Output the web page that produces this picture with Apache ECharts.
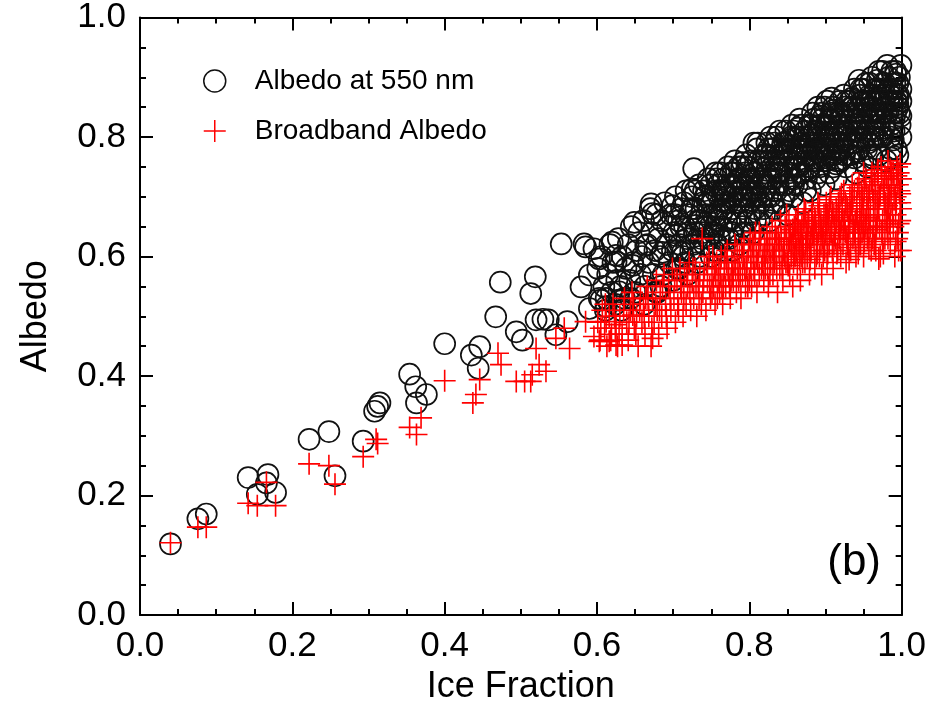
<!DOCTYPE html>
<html>
<head>
<meta charset="utf-8">
<script src="https://cdn.jsdelivr.net/npm/echarts@6/dist/echarts.min.js"></script>
<style>
  html, body { margin: 0; padding: 0; background: #fff; }
  #main { width: 929px; height: 710px; }
</style>
</head>
<body>
<div id="main"></div>
<script>
var myChart = echarts.init(document.getElementById('main'));

// values: [ice fraction, albedo]
var seriesNames = ['Albedo at 550 nm', 'Broadband Albedo'];
var xTicks = [0, 0.2, 0.4, 0.6, 0.8, 1.0];
var yTicks = [0, 0.2, 0.4, 0.6, 0.8, 1.0];
var panelLabel = '(b)';

var albedo550 = [
  [0.040,0.119],[0.076,0.161],[0.087,0.169],[0.142,0.230],[0.154,0.202],[0.166,0.221],[0.168,0.235],[0.178,0.205],
  [0.222,0.294],[0.248,0.307],[0.256,0.233],[0.293,0.291],[0.308,0.341],[0.312,0.349],[0.315,0.355],[0.354,0.403],
  [0.362,0.382],[0.363,0.355],[0.376,0.369],[0.400,0.454],[0.435,0.435],[0.444,0.413],[0.446,0.449],[0.467,0.499],
  [0.473,0.557],[0.494,0.474],[0.502,0.460],[0.513,0.538],[0.519,0.566],[0.520,0.494],[0.529,0.495],[0.536,0.494],
  [0.546,0.469],[0.553,0.621],[0.561,0.491],[0.579,0.549],[0.583,0.621],[0.585,0.616],[0.590,0.569],[0.596,0.613],
  [0.590,0.513],[0.603,0.596],[0.605,0.527],[0.612,0.516],[0.620,0.624],[0.625,0.602],[0.625,0.591],[0.629,0.527],
  [0.629,0.541],[0.647,0.585],[0.649,0.657],[0.664,0.618],[0.671,0.688],[0.673,0.672],[0.677,0.541],[0.686,0.607],
  [0.699,0.685],[0.704,0.635],[0.708,0.580],[0.712,0.607],[0.725,0.713],[0.727,0.747],[0.730,0.652],[0.743,0.702],
  [0.760,0.635],[0.769,0.707],[0.791,0.757],[0.800,0.730],
  [.601,.58],[.603,.53],[.606,.60],[.609,.55],[.611,.51],[.614,.57],[.617,.62],[.619,.54],
  [.621,.59],[.624,.52],[.626,.56],[.628,.63],[.631,.55],[.633,.60],[.636,.53],[.638,.58],
  [.641,.62],[.643,.56],[.645,.65],[.647,.59],[.650,.54],[.652,.61],[.655,.64],[.657,.57],[.659,.60],
  [.661,.66],[.663,.55],[.666,.62],[.668,.59],[.670,.68],[.672,.64],[.674,.57],[.676,.61],[.678,.67],[.679,.54],
  [.681,.63],[.683,.60],[.685,.66],[.687,.57],[.689,.69],[.691,.62],[.693,.65],[.695,.59],[.697,.67],[.699,.61],
  [.701,.64],[.703,.70],[.705,.58],[.707,.66],[.709,.62],[.711,.68],[.713,.60],[.715,.65],[.717,.71],[.718,.63],[.719,.57],
  [.721,.67],[.723,.61],[.725,.70],[.728,.64],[.730,.68],[.732,.59],[.734,.72],[.736,.66],[.737,.63],[.739,.69],
  [.741,.62],[.742,.70],[.744,.67],[.746,.73],[.748,.65],[.750,.60],[.751,.69],[.753,.64],[.755,.71],[.757,.67],[.758,.62],[.759,.72],
  [.761,.68],[.762,.74],[.764,.65],[.765,.71],[.767,.61],[.769,.69],[.770,.66],[.772,.75],[.773,.63],[.775,.72],[.777,.68],[.778,.70],[.779,.64],
  [.781,.76],[.782,.71],[.784,.67],[.785,.73],[.787,.62],[.788,.69],[.790,.75],[.791,.65],[.793,.72],[.794,.70],[.796,.77],[.797,.66],[.799,.73],
  [.801,.69],[.802,.76],[.804,.71],[.805,.64],[.807,.74],[.808,.68],[.810,.78],[.811,.72],[.813,.66],[.814,.75],[.816,.70],[.817,.73],[.819,.77],[.820,.67],
  [.821,.74],[.823,.79],[.824,.70],[.826,.76],[.827,.66],[.829,.73],[.830,.78],[.832,.71],[.833,.68],[.835,.75],[.836,.80],[.838,.72],[.839,.77],
  [.841,.74],[.842,.69],[.844,.79],[.845,.76],[.847,.72],[.848,.81],[.850,.67],[.851,.75],[.853,.78],[.854,.73],[.856,.82],[.857,.70],[.859,.77],[.860,.75],
  [.861,.80],[.863,.72],[.864,.77],[.866,.83],[.867,.74],[.869,.79],[.870,.69],[.872,.76],[.873,.81],[.875,.73],[.876,.78],[.878,.82],[.879,.75],[.880,.71],
  [.881,.79],[.883,.84],[.884,.76],[.886,.81],[.887,.73],[.889,.78],[.890,.85],[.892,.75],[.893,.80],[.895,.77],[.896,.83],[.898,.72],[.899,.79],[.900,.82],
  [.901,.76],[.902,.86],[.904,.80],[.905,.74],[.907,.83],[.908,.78],[.910,.85],[.911,.77],[.913,.81],[.914,.73],[.916,.84],[.917,.79],[.919,.86],[.920,.76],
  [.921,.82],[.923,.78],[.924,.87],[.926,.80],[.927,.75],[.929,.84],[.930,.81],[.932,.86],[.933,.77],[.935,.83],[.936,.79],[.938,.88],[.939,.82],[.940,.74],
  [.941,.85],[.943,.81],[.944,.78],[.946,.88],[.947,.83],[.949,.76],[.950,.86],[.952,.80],[.953,.89],[.955,.84],[.956,.79],[.958,.87],[.959,.82],[.960,.77],
  [.961,.90],[.963,.84],[.964,.81],[.966,.88],[.967,.78],[.969,.86],[.970,.91],[.972,.83],[.973,.80],[.975,.89],[.976,.85],[.978,.82],[.979,.87],[.980,.76],
  [.981,.92],[.982,.84],[.984,.88],[.985,.80],[.987,.91],[.988,.86],[.990,.83],[.991,.89],[.993,.78],[.994,.87],[.995,.85],[.997,.90],[.998,.82],[.999,.88],[.999,.92],
  [.612,.53],[.632,.51],[.644,.53],[.662,.52],[.684,.55],[.700,.56],
  [.702,.67],[.706,.61],[.710,.65],[.714,.69],[.716,.59],[.720,.64],[.724,.68],[.726,.62],[.729,.71],[.733,.66],[.735,.60],[.738,.64],
  [.740,.71],[.743,.65],[.745,.69],[.747,.63],[.749,.72],[.752,.67],[.754,.61],[.756,.74],[.758,.66],[.760,.70],[.763,.67],[.766,.73],
  [.768,.63],[.771,.70],[.774,.66],[.776,.74],[.778,.61],[.780,.72],[.783,.69],[.786,.75],[.789,.71],[.792,.68],[.795,.74],[.798,.70],
  [.803,.73],[.806,.79],[.809,.70],[.812,.76],[.815,.72],[.818,.68],[.822,.77],[.825,.73],[.828,.80],[.831,.69],[.834,.76],[.837,.74],
  [.840,.81],[.843,.77],[.846,.70],[.849,.78],[.852,.74],[.855,.80],[.858,.72],[.862,.78],[.865,.75],[.868,.82],[.871,.78],[.874,.71],
  [.877,.80],[.882,.77],[.885,.83],[.888,.80],[.891,.74],[.894,.82],[.897,.78],[.899,.85],
  [.903,.82],[.906,.77],[.909,.84],[.912,.80],[.915,.76],[.918,.82],[.922,.79],[.925,.85],[.928,.82],[.931,.77],[.934,.85],[.937,.81],
  [.942,.83],[.945,.80],[.948,.86],[.951,.82],[.954,.78],[.957,.85],[.962,.87],[.965,.83],[.968,.80],[.971,.88],[.974,.84],[.977,.86],
  [.983,.86],[.986,.82],[.989,.88],[.992,.84],[.996,.87],[.999,.80],[.992,.91],[.975,.91],[.958,.89],[.945,.87],
  [.752,.70],[.755,.65],[.757,.73],[.761,.63],[.764,.71],[.767,.68],[.770,.72],[.773,.69],[.776,.64],[.779,.74],[.782,.66],[.785,.70],
  [.788,.73],[.791,.70],[.794,.64],[.797,.75],[.800,.67],[.800,.71],
  [.803,.70],[.806,.74],[.808,.66],[.811,.79],[.814,.69],[.817,.76],[.819,.71],[.822,.72],[.825,.78],[.828,.70],[.830,.75],[.833,.79],
  [.836,.71],[.839,.74],[.842,.78],[.845,.72],[.847,.79],[.850,.76],[.853,.71],[.856,.78],[.858,.81],[.860,.73],
  [.862,.75],[.865,.80],[.867,.78],[.870,.74],[.872,.80],[.875,.77],[.878,.79],[.880,.75],[.882,.82],[.885,.78],[.887,.76],[.890,.81],
  [.892,.78],[.895,.84],[.897,.76],[.900,.79],
  [.902,.78],[.905,.83],[.907,.80],[.910,.75],[.912,.83],[.915,.81],[.918,.78],[.920,.84],[.923,.81],[.925,.77],[.928,.86],[.930,.79],
  [.933,.83],[.936,.85],[.939,.79],[.941,.81],[.944,.84],[.946,.80],[.949,.88],[.951,.84],[.954,.86],[.957,.81],[.960,.84],[.962,.80],
  [.965,.86],[.967,.84],[.970,.82],[.973,.87],[.975,.80],[.978,.89],[.980,.84],[.983,.90],[.985,.87],[.988,.84],[.990,.81],[.993,.86],
  [.995,.89],[.997,.84],[.999,.86],[.986,.78],[.970,.77],[.955,.75],[.995,.77],
  [.852,.795],[.858,.765],[.864,.815],[.870,.785],[.876,.745],[.882,.805],[.888,.775],[.894,.835],[.899,.765],[.905,.805],[.911,.845],
  [.917,.775],[.923,.835],[.929,.795],[.935,.865],[.941,.775],[.947,.825],[.953,.855],[.959,.795],[.965,.845],[.971,.865],[.977,.815],
  [.983,.875],[.989,.795],[.995,.855],[.999,.835],[.962,.765],[.986,.765],[.938,.765],[.914,.755],[.908,.865],[.944,.895],[.968,.895],[.992,.905]
];

var broadband = [
  [0.040,0.121],[0.076,0.147],[0.087,0.147],[0.142,0.187],[0.154,0.183],[0.166,0.222],[0.178,0.183],[0.222,0.253],
  [0.248,0.250],[0.256,0.219],[0.293,0.265],[0.310,0.294],[0.312,0.287],[0.354,0.314],[0.363,0.302],[0.369,0.330],
  [0.400,0.392],[0.437,0.355],[0.441,0.369],[0.446,0.394],[0.470,0.438],[0.474,0.419],[0.494,0.391],[0.505,0.391],
  [0.513,0.391],[0.515,0.402],[0.520,0.446],[0.524,0.419],[0.533,0.408],[0.546,0.463],[0.557,0.480],[0.564,0.446],
  [0.585,0.491],[0.596,0.466],[0.603,0.458],[0.612,0.491],[0.616,0.458],[0.625,0.452],[0.625,0.486],[0.633,0.452],
  [0.647,0.502],[0.664,0.530],[0.673,0.463],
  [.601,.49],[.604,.46],[.607,.51],[.610,.48],[.613,.45],[.616,.50],[.619,.47],
  [.621,.52],[.624,.48],[.627,.45],[.630,.50],[.633,.47],[.636,.53],[.639,.49],
  [.641,.46],[.644,.51],[.646,.54],[.649,.48],[.652,.50],[.654,.45],[.657,.53],[.659,.49],
  [.661,.52],[.663,.47],[.666,.55],[.668,.50],[.671,.45],[.673,.53],[.675,.49],[.678,.56],[.679,.51],
  [.681,.47],[.683,.54],[.685,.50],[.688,.57],[.690,.52],[.692,.48],[.694,.55],[.697,.51],[.699,.58],
  [.701,.53],[.703,.49],[.705,.56],[.707,.51],[.709,.58],[.711,.54],[.713,.50],[.715,.57],[.717,.52],[.719,.55],
  [.721,.59],[.723,.51],[.725,.56],[.727,.53],[.729,.58],[.731,.50],[.733,.55],[.735,.57],[.737,.52],[.738,.63],[.739,.54],
  [.741,.58],[.743,.51],[.745,.56],[.747,.60],[.749,.53],[.751,.57],[.753,.55],[.755,.52],[.757,.59],[.759,.56],
  [.761,.54],[.763,.60],[.765,.52],[.767,.58],[.769,.55],[.771,.61],[.773,.57],[.775,.53],[.777,.59],[.779,.56],
  [.781,.62],[.783,.54],[.785,.58],[.787,.60],[.789,.53],[.791,.57],[.793,.62],[.795,.55],[.797,.59],[.799,.61],[.800,.56],
  [.801,.63],[.803,.55],[.805,.60],[.806,.58],[.808,.64],[.810,.54],[.812,.61],[.813,.57],[.815,.63],[.817,.59],[.819,.56],[.820,.62],
  [.821,.58],[.823,.64],[.825,.55],[.826,.61],[.828,.59],[.830,.65],[.831,.57],[.833,.62],[.835,.60],[.837,.54],[.838,.63],[.840,.58],
  [.841,.66],[.843,.60],[.844,.56],[.846,.63],[.848,.59],[.849,.67],[.851,.61],[.853,.57],[.854,.64],[.856,.62],[.857,.55],[.859,.65],[.860,.60],
  [.861,.63],[.863,.58],[.864,.67],[.866,.61],[.867,.56],[.869,.65],[.870,.62],[.872,.68],[.873,.59],[.875,.64],[.876,.60],[.878,.66],[.879,.57],[.880,.63],
  [.881,.61],[.883,.68],[.884,.64],[.886,.58],[.887,.66],[.889,.62],[.890,.69],[.892,.60],[.893,.65],[.895,.57],[.896,.63],[.898,.67],[.899,.61],[.900,.64],
  [.901,.69],[.902,.59],[.904,.66],[.905,.62],[.907,.70],[.908,.64],[.910,.58],[.911,.67],[.913,.63],[.914,.68],[.916,.61],[.917,.65],[.919,.70],[.920,.60],
  [.921,.66],[.923,.62],[.924,.71],[.926,.64],[.927,.59],[.929,.68],[.930,.65],[.932,.70],[.933,.61],[.935,.67],[.936,.63],[.938,.71],[.939,.66],[.940,.60],
  [.941,.69],[.943,.64],[.944,.72],[.946,.62],[.947,.67],[.949,.70],[.950,.60],[.952,.66],[.953,.73],[.955,.63],[.956,.68],[.958,.71],[.959,.65],[.960,.61],
  [.961,.74],[.963,.67],[.964,.62],[.966,.70],[.967,.65],[.969,.72],[.970,.68],[.972,.60],[.973,.75],[.975,.66],[.976,.71],[.978,.63],[.979,.69],[.980,.73],
  [.981,.65],[.982,.76],[.984,.70],[.985,.62],[.987,.74],[.988,.67],[.990,.72],[.991,.60],[.993,.69],[.994,.75],[.995,.64],[.997,.71],[.998,.66],[.999,.73],[.999,.61],
  [.605,.48],[.611,.52],[.618,.46],[.623,.50],[.629,.47],[.635,.51],[.642,.49],[.648,.52],[.651,.47],[.656,.51],[.662,.50],[.667,.53],
  [.672,.48],[.677,.52],[.682,.51],[.686,.55],[.691,.50],[.696,.53],
  [.702,.56],[.706,.52],[.710,.55],[.714,.53],[.718,.57],[.722,.54],[.726,.58],[.730,.55],[.734,.53],[.740,.56],[.744,.59],[.748,.55],
  [.752,.60],[.756,.57],[.760,.58],[.764,.55],[.768,.60],[.772,.58],[.776,.56],[.780,.59],[.784,.61],[.788,.57],[.792,.60],[.796,.58],
  [.802,.60],[.804,.62],[.807,.57],[.811,.59],[.814,.62],[.818,.60],[.822,.61],[.824,.58],[.827,.63],[.832,.60],[.834,.64],[.836,.58],
  [.839,.61],[.842,.63],[.845,.61],[.847,.65],[.850,.59],[.852,.63],[.855,.60],[.858,.63],[.862,.61],[.865,.64],[.868,.60],[.871,.66],
  [.874,.62],[.877,.63],[.882,.65],[.885,.62],[.888,.64],[.891,.67],[.894,.62],[.897,.65],
  [.903,.67],[.906,.64],[.909,.61],[.912,.65],[.915,.67],[.918,.63],[.922,.68],[.925,.66],[.928,.63],[.931,.67],[.934,.69],[.937,.65],
  [.942,.66],[.945,.69],[.948,.64],[.951,.71],[.954,.67],[.957,.64],[.962,.71],[.965,.68],[.968,.66],[.971,.70],[.974,.64],[.977,.72],
  [.983,.68],[.986,.72],[.989,.65],[.992,.70],[.996,.74],[.999,.68],[.985,.66],[.968,.74],[.950,.74],[.935,.72],[.994,.63],[.978,.67],
  [.963,.65],[.947,.66],[.970,.596],
  [.751,.54],[.754,.58],[.758,.53],[.762,.57],[.766,.55],[.770,.59],[.774,.55],[.778,.57],[.782,.58],[.786,.56],[.790,.61],[.794,.58],[.798,.55],
  [.802,.58],[.806,.62],[.809,.60],[.813,.64],[.816,.58],[.820,.60],[.824,.62],[.827,.57],[.830,.61],[.833,.59],[.836,.63],[.840,.62],
  [.843,.58],[.846,.60],[.849,.63],[.852,.66],[.855,.62],[.858,.59],
  [.861,.66],[.864,.62],[.867,.64],[.870,.59],[.873,.66],[.876,.63],[.879,.61],[.882,.67],[.885,.65],[.888,.60],[.891,.64],[.894,.66],
  [.897,.60],[.900,.67],
  [.902,.63],[.905,.68],[.908,.66],[.911,.62],[.914,.66],[.917,.69],[.920,.64],[.923,.66],[.926,.69],[.929,.62],[.932,.65],[.935,.70],
  [.938,.64],[.941,.67],[.944,.62],[.947,.71],[.950,.68],
  [.953,.65],[.956,.70],[.959,.68],[.962,.63],[.965,.72],[.968,.69],[.971,.65],[.974,.73],[.977,.69],[.980,.66],[.983,.72],[.986,.69],
  [.989,.74],[.992,.67],[.995,.72],[.998,.69],[.982,.63],[.966,.61],[.996,.61],
  [.851,.585],[.853,.625],[.857,.645],[.859,.605],[.863,.655],[.866,.595],[.868,.635],[.871,.615],[.874,.675],[.877,.655],[.880,.595],
  [.883,.635],[.886,.665],[.889,.605],[.892,.685],[.895,.645],[.898,.625],
  [.901,.655],[.903,.605],[.906,.695],[.909,.675],[.912,.635],[.915,.605],[.918,.665],[.921,.705],[.924,.645],[.927,.685],[.930,.615],
  [.933,.675],[.936,.695],[.939,.625],[.942,.715],[.945,.655],[.948,.685],
  [.951,.625],[.954,.705],[.957,.665],[.960,.725],[.963,.695],[.966,.645],[.969,.745],[.972,.705],[.975,.625],[.978,.735],[.981,.685],
  [.984,.655],[.987,.715],[.990,.695],[.993,.735],[.996,.655],[.998,.705],
  [.964,.735],[.985,.745],[.992,.625],[.957,.615],[.943,.605],[.931,.595],[.976,.605],[.998,.755],[.982,.715],[.950,.645]
];

var FONT = '"Liberation Sans", Arial, Helvetica, sans-serif';
var crossPath = 'path://M0,10L20,10M10,0L10,20';

function tickFmt(v) {
  return xTicks.indexOf(v) >= 0 || yTicks.indexOf(v) >= 0 ? v.toFixed(1) : '';
}

function mainAxis(name, pos) {
  return {
    type: 'value', position: pos, min: 0, max: 1, interval: 0.2,
    name: name, nameLocation: 'middle',
    nameTextStyle: {fontFamily: FONT, fontSize: 36, color: '#000'},
    axisLine: {show: true, onZero: false, lineStyle: {color: '#000', width: 2}},
    axisTick: {show: true, inside: true, length: 13, lineStyle: {color: '#000', width: 2}},
    minorTick: {show: true, splitNumber: 4, length: 6, lineStyle: {color: '#000', width: 2}},
    axisLabel: {fontFamily: FONT, fontSize: 35, color: '#000', margin: 14, formatter: tickFmt},
    splitLine: {show: false}
  };
}

function mirrorAxis(pos) {
  return {
    type: 'value', position: pos, min: 0, max: 1, interval: 0.2,
    axisLine: {show: true, onZero: false, lineStyle: {color: '#000', width: 2}},
    axisTick: {show: true, inside: true, length: 13, lineStyle: {color: '#000', width: 2}},
    minorTick: {show: true, splitNumber: 4, length: 6, lineStyle: {color: '#000', width: 2}},
    axisLabel: {show: false},
    splitLine: {show: false}
  };
}

var xMain = mainAxis('Ice Fraction', 'bottom');
xMain.nameGap = 52;
var yMain = mainAxis('Albedo', 'left');
yMain.nameGap = 86;

var option = {
  animation: false,
  backgroundColor: '#fff',
  grid: {left: 140, right: 26, top: 14, bottom: 95},
  xAxis: [xMain, mirrorAxis('top')],
  yAxis: [yMain, mirrorAxis('right')],
  legend: {
    orient: 'vertical', left: 198, top: 62, itemGap: 22,
    itemWidth: 70, itemHeight: 22, selectedMode: false,
    textStyle: {fontFamily: FONT, fontSize: 28, color: '#000'},
    data: [
      {name: seriesNames[0], icon: 'circle',
       itemStyle: {color: 'rgba(0,0,0,0)', borderColor: '#111', borderWidth: 1.5}},
      {name: seriesNames[1], icon: crossPath,
       itemStyle: {color: 'rgba(0,0,0,0)', borderColor: '#f00', borderWidth: 1.5}}
    ]
  },
  graphic: [{
    type: 'text', right: 48, bottom: 125,
    style: {text: panelLabel, font: '44px ' + FONT, fill: '#000'}
  }],
  series: [
    {
      name: seriesNames[0], type: 'scatter', data: albedo550,
      symbol: 'circle', symbolSize: 21, silent: true,
      itemStyle: {color: 'rgba(0,0,0,0)', borderColor: '#111', borderWidth: 1.7, opacity: 1}
    },
    {
      name: seriesNames[1], type: 'scatter', data: broadband,
      symbol: crossPath, symbolSize: 22, silent: true,
      itemStyle: {color: 'rgba(0,0,0,0)', borderColor: '#f00', borderWidth: 1.6, opacity: 1}
    }
  ]
};

myChart.setOption(option);
</script>
</body>
</html>
